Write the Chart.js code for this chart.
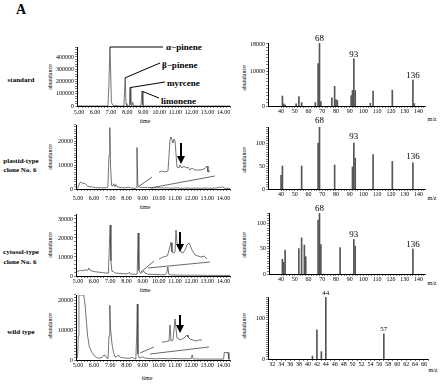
<!DOCTYPE html>
<html>
<head>
<meta charset="utf-8">
<script src="https://cdn.jsdelivr.net/npm/chart.js@4.4.0/dist/chart.umd.min.js"></script>
<style>
  body { margin: 0; background: #fff; }
  #fig { position: relative; width: 440px; height: 384px; overflow: hidden; background: #fff;
         font-family: 'Liberation Serif', 'Times New Roman', serif; color: #000; }
  #fig canvas, #fig svg { position: absolute; }
  .t { position: absolute; white-space: nowrap; line-height: 1; }
</style>
</head>
<body>
<div id="fig"></div>
<script>
// chromatograms (time in min, abundance)
const chromTicks = [5, 6, 7, 8, 9, 10, 11, 12, 13, 14];

const stdTime  = [4.88, 6.80, 6.86, 6.93, 6.97, 7.02, 7.10, 7.20, 7.30, 7.36, 7.45, 7.80, 7.84, 7.88, 7.93, 7.98, 8.12, 8.15, 8.18, 8.23, 8.30, 8.35, 8.40, 8.86, 8.90, 8.93, 8.98, 9.05, 14.40];
const stdAbund = [0, 0, 150000, 481000, 300000, 30000, 8000, 3000, 6000, 3000, 0, 0, 120000, 230000, 20000, 2000, 0, 80000, 150000, 10000, 2000, 30000, 2000, 0, 80000, 120000, 5000, 0, 0];
const stdYLabels = [0, 100000, 200000, 300000, 400000];

const compoundNames = ['α−pinene', 'β−pinene', 'myrcene', 'limonene'];
const compoundTime  = [6.93, 7.88, 8.18, 8.93];
const compoundPeak  = [481000, 230000, 150000, 120000];

const plTime  = [4.88, 5.00, 5.10, 5.20, 5.30, 5.40, 5.50, 5.60, 5.70, 5.90, 6.10, 6.40, 6.70, 6.85, 6.92, 6.97, 7.02, 7.08, 7.15, 7.22, 7.28, 7.35, 7.42, 7.60, 7.90, 8.10, 8.30, 8.55, 8.61, 8.65, 8.70, 8.80, 9.00, 9.30, 9.60, 9.90, 10.20, 10.50, 10.80, 11.10, 11.40, 11.70, 12.00, 12.30, 12.60, 12.90, 13.20, 13.50, 13.80, 13.95, 14.05, 14.40];
const plAbund = [300, 500, 2500, 2900, 2200, 2500, 1800, 1200, 1000, 800, 600, 500, 500, 800, 14000, 25600, 9000, 1500, 1200, 2200, 1000, 1800, 900, 600, 500, 700, 400, 300, 600, 17300, 1500, 800, 600, 700, 400, 600, 400, 500, 300, 500, 300, 400, 300, 400, 300, 400, 300, 400, 700, 900, 300, 300];
const plYLabels = [0, 10000, 20000];

const cyTime  = [4.88, 5.00, 5.15, 5.30, 5.45, 5.60, 5.68, 5.75, 5.90, 6.10, 6.30, 6.50, 6.70, 6.88, 6.94, 6.99, 7.04, 7.10, 7.18, 7.25, 7.40, 7.60, 7.90, 8.10, 8.18, 8.25, 8.50, 8.66, 8.72, 8.77, 8.85, 8.95, 9.05, 9.15, 9.30, 9.60, 10.00, 10.40, 10.50, 10.56, 10.62, 10.80, 11.20, 11.60, 12.00, 12.50, 13.00, 13.50, 14.00, 14.40];
const cyAbund = [1500, 2500, 3000, 2800, 3200, 3000, 4200, 3000, 2500, 2200, 2000, 1800, 1600, 1500, 15000, 26800, 8000, 2500, 2400, 1800, 1500, 1300, 1100, 1200, 2000, 1000, 900, 1000, 22600, 3000, 1500, 1800, 2600, 1500, 1000, 800, 700, 600, 2000, 4700, 800, 500, 500, 400, 400, 400, 300, 300, 300, 300];
const cyYLabels = [0, 10000, 20000, 30000];

const wtTime  = [4.88, 4.98, 5.02, 5.06, 5.36, 5.45, 5.52, 5.60, 5.70, 5.85, 6.00, 6.15, 6.35, 6.50, 6.60, 6.70, 6.78, 6.86, 6.92, 6.97, 7.02, 7.10, 7.20, 7.30, 7.42, 7.50, 7.58, 7.70, 8.00, 8.20, 8.35, 8.45, 8.58, 8.63, 8.67, 8.71, 8.78, 8.90, 9.00, 9.10, 9.40, 9.80, 10.20, 10.60, 11.00, 11.40, 11.80, 12.00, 12.06, 12.12, 12.50, 13.00, 13.50, 14.00, 14.05, 14.28, 14.33, 14.40];
const wtAbund = [700, 800, 8000, 21700, 21700, 18000, 13000, 8000, 4500, 2700, 1500, 800, 600, 900, 1600, 1500, 700, 500, 8000, 18300, 10000, 5600, 2500, 1000, 1200, 1700, 1000, 800, 600, 600, 900, 600, 300, 8000, 18700, 2000, 700, 800, 1100, 700, 500, 400, 500, 400, 500, 400, 400, 500, 1700, 400, 300, 300, 300, 300, 2500, 2500, 300, 300];
const wtYLabels = [0, 10000, 20000];

// magnified insets (arbitrary abundance units)
const plInsetTime  = [9.00, 9.24, 9.48, 9.72, 9.88, 9.96, 10.12, 10.20, 10.28, 10.44, 10.60, 10.68, 10.84, 11.00, 11.16, 11.32, 11.48, 11.64, 11.88, 12.12, 12.36, 12.60, 12.76, 12.84, 12.92, 13.08];
const plInsetAbund = [0, 40, 0, 40, 1280, 1400, 1160, 1320, 1240, 200, 160, 280, 160, 240, 160, 200, 80, 160, 80, 80, 80, 120, 200, 240, 0, 40];
const cyInsetTime  = [9.00, 9.32, 9.64, 9.72, 9.96, 10.04, 10.20, 10.28, 10.36, 10.44, 10.52, 10.68, 10.76, 10.92, 11.08, 11.24, 11.40, 11.48, 11.64, 11.88, 12.12, 12.36, 12.60, 12.76, 12.84];
const cyInsetAbund = [40, 120, 160, 240, 700, 320, 280, 320, 1200, 680, 600, 520, 320, 280, 400, 600, 680, 600, 400, 200, 160, 120, 160, 80, 40];
const wtInsetTime  = [9.0, 9.3, 9.6, 9.7, 9.8, 9.9, 10.1, 10.3, 10.5, 10.7, 10.8, 11.0, 11.2, 11.4, 11.5, 11.6, 11.8, 12.1, 12.4, 12.7, 13.0];
const wtInsetAbund = [40, 40, 80, 80, 720, 80, 120, 960, 200, 160, 120, 160, 200, 280, 320, 240, 160, 120, 80, 120, 120];

// mass spectra (m/z, abundance)
const mzLabels = [40, 50, 60, 70, 80, 90, 100, 110, 120, 130, 140];
const wtMzLabels = [32, 34, 36, 38, 40, 42, 44, 46, 48, 50, 52, 54, 56, 58, 60, 62, 64, 66];

const stdMz = [41, 42, 43, 51, 53, 55, 65, 67, 68, 69, 77, 79, 80, 81, 91, 92, 93, 94, 105, 107, 121, 136, 137];
const stdMzAbund = [2900, 600, 300, 600, 2700, 1000, 1000, 12300, 18200, 1250, 2400, 5700, 1900, 1600, 3000, 4500, 13700, 4500, 800, 4300, 4600, 7500, 700];
const stdMzYLabels = [0, 10000, 18000];
const stdMzPeaks = [68, 93, 136];

const plMz = [40, 41, 55, 67, 68, 79, 92, 93, 94, 107, 121, 136];
const plMzAbund = [30, 50, 50, 100, 135, 52, 48, 100, 67, 75, 60, 57];
const plMzYLabels = [0, 50, 100];
const plMzPeaks = [68, 93, 136];

const cyMz = [41, 42, 43, 53, 55, 57, 58, 67, 68, 69, 83, 93, 94, 136];
const cyMzAbund = [29, 23, 47, 50, 71, 57, 34, 106, 119, 58, 52, 68, 55, 49];
const cyMzYLabels = [0, 50, 100];
const cyMzPeaks = [68, 93, 136];

const wtMz = [41, 42, 43, 44, 57];
const wtMzAbund = [7, 71, 18, 150, 61];
const wtMzYLabels = [0, 100];
const wtMzPeaks = [44, 57];

Chart.defaults.font.family = "'Liberation Serif', 'Times New Roman', serif";
Chart.defaults.font.size = 6;
Chart.defaults.color = '#000';
Chart.defaults.animation = false;
Chart.defaults.responsive = false;
Chart.defaults.devicePixelRatio = 1;
Chart.defaults.plugins.legend.display = false;
Chart.defaults.plugins.tooltip.enabled = false;

const fig = document.getElementById('fig');

function txt(s, x, y, css, left) {
  const d = document.createElement('div');
  d.className = 't';
  d.textContent = s;
  d.style.cssText += css;
  d.style.left = x + 'px';
  d.style.top = y + 'px';
  d.style.transform = left ? 'translate(0,-50%)' : 'translate(-50%,-50%)';
  fig.appendChild(d);
  return d;
}
function vtxt(s, x, y, css) {
  const d = txt(s, x, y, css);
  d.style.transform = 'translate(-50%,-50%) rotate(-90deg)';
}

function addCanvas(left, top, w, h) {
  const c = document.createElement('canvas');
  c.width = w; c.height = h;
  c.style.left = left + 'px'; c.style.top = top + 'px';
  c.style.width = w + 'px'; c.style.height = h + 'px';
  fig.appendChild(c);
  return c;
}

function range(a, b, step) {
  const n = Math.round((b - a) / step);
  return Array.from({ length: n + 1 }, (_, i) => +(a + i * step).toFixed(4));
}

function axis(side, min, max, ticks, labels, fmt, size, pad) {
  return {
    type: 'linear', min: min, max: max, offset: false,
    afterBuildTicks: s => { s.ticks = ticks.map(v => ({ value: v })); },
    afterFit: s => { if (side === 'x') s.height = size; else s.width = size; },
    ticks: {
      autoSkip: false, maxRotation: 0, minRotation: 0, padding: pad, font: { size: 6 },
      callback: v => labels.includes(v) ? fmt(v) : ''
    },
    grid: { drawOnChartArea: false, drawTicks: true, tickLength: 2, color: '#000', lineWidth: 0.5, offset: false },
    border: { display: true, color: '#000', width: 1 }
  };
}

function chrom(box, time, abund, yMax, yStep, yLabels, xPad, extra) {
  const L = 30, R = 8, T = 6, B = 16;
  const c = addCanvas(box.l - L, box.t - T, box.r - box.l + L + R, box.b - box.t + T + B);
  return new Chart(c, {
    type: 'line',
    data: { datasets: [{ data: time.map((t, i) => ({ x: t, y: abund[i] })), borderColor: '#3a3a3a', borderWidth: 0.7, pointRadius: 0, tension: 0 }] },
    options: {
      layout: { padding: { left: 0, top: T, right: R, bottom: 0 } },
      scales: {
        x: axis('x', 4.88, 14.4, range(5, 14.4, 0.2), chromTicks, v => v.toFixed(2), B, xPad),
        y: axis('y', 0, yMax, range(0, yMax, yStep), yLabels, v => String(v), L, 1)
      }
    },
    plugins: extra ? [extra] : []
  });
}

function inset(box, time, abund, xr, yr) {
  const c = addCanvas(box.l, box.t, box.r - box.l, box.b - box.t);
  return new Chart(c, {
    type: 'line',
    data: { datasets: [{ data: time.map((t, i) => ({ x: t, y: abund[i] })), borderColor: '#3a3a3a', borderWidth: 0.7, pointRadius: 0, tension: 0 }] },
    options: {
      layout: { padding: 0 },
      scales: {
        x: { type: 'linear', display: false, min: xr[0], max: xr[1] },
        y: { type: 'linear', display: false, min: yr[0], max: yr[1] }
      }
    }
  });
}

function peakLabels(peaks, size, gap) {
  return {
    id: 'peakLabels',
    afterDatasetsDraw(chart) {
      const ctx = chart.ctx, xs = chart.scales.x, ys = chart.scales.y;
      const d = chart.data.datasets[0].data;
      ctx.save();
      ctx.font = size + "px 'Liberation Serif'";
      ctx.fillStyle = '#000';
      ctx.textAlign = 'center';
      ctx.textBaseline = 'bottom';
      peaks.forEach(m => {
        const p = d.find(q => q.x === m);
        ctx.fillText(String(m), xs.getPixelForValue(m), ys.getPixelForValue(p.y) - gap);
      });
      ctx.restore();
    }
  };
}

function spec(box, mz, ab, xr, xStep, xLabels, yMax, yStep, yLabels, peaks, size, gap) {
  const L = 26, R = 6, T = 12, B = 12;
  const c = addCanvas(box.l - L, box.t - T, box.r - box.l + L + R, box.b - box.t + T + B);
  return new Chart(c, {
    type: 'bar',
    data: { datasets: [{ data: mz.map((m, i) => ({ x: m, y: ab[i] })), backgroundColor: '#555', barThickness: 1, borderWidth: 0 }] },
    options: {
      layout: { padding: { left: 0, top: T, right: R, bottom: 0 } },
      scales: {
        x: axis('x', xr[0], xr[1], range(xLabels[0], xr[1], xStep), xLabels, v => String(v), B, 0),
        y: axis('y', 0, yMax, range(0, yMax, yStep), yLabels, v => String(v), L, 1)
      }
    },
    plugins: [peakLabels(peaks, size, gap)]
  });
}

// labels
txt('A', 16, 10, 'font-size:14px;font-weight:bold;', true);
const rowCss = 'font-size:7px;font-weight:bold;';
txt('standard', 21, 80, rowCss);
txt('plastid-type', 21, 161, rowCss);
txt('clone No. 6', 20, 170, rowCss);
txt('cytosol-type', 21, 252, rowCss);
txt('clone No. 6', 20, 262, rowCss);
txt('wild type', 21, 332, rowCss);

const smallCss = 'font-size:6px;';
[77, 157, 245, 326].forEach(y => vtxt('abundance', 50, y, smallCss));
[78, 160, 245, 326].forEach(y => vtxt('abundance', 244, y, smallCss));
txt('time', 145, 121, smallCss);
txt('time', 145, 207, smallCss);
txt('time', 145, 290, smallCss);
txt('time', 147, 378, smallCss);
txt('m/z', 432, 119, smallCss);
txt('m/z', 432, 198, smallCss);
txt('m/z', 432, 283, smallCss);
txt('m/z', 433, 370, smallCss);

const compoundLabelPos = [[166, 47], [162, 65], [167, 83], [161, 101]];
const leaderEnd = [[163, 47], [160, 63], [165, 82], [159, 98]];
compoundNames.forEach((n, i) => txt(n, compoundLabelPos[i][0], compoundLabelPos[i][1], 'font-size:9px;font-weight:bold;', true));

const leaders = {
  id: 'leaders',
  afterDatasetsDraw(chart) {
    const ctx = chart.ctx, xs = chart.scales.x, ys = chart.scales.y;
    const ox = parseFloat(chart.canvas.style.left), oy = parseFloat(chart.canvas.style.top);
    ctx.save();
    ctx.strokeStyle = '#000';
    ctx.lineWidth = 1;
    compoundTime.forEach((t, i) => {
      ctx.beginPath();
      ctx.moveTo(xs.getPixelForValue(t), ys.getPixelForValue(compoundPeak[i]));
      ctx.lineTo(leaderEnd[i][0] - ox, leaderEnd[i][1] - oy);
      ctx.stroke();
    });
    ctx.restore();
  }
};

// chromatograms
chrom({ l: 77, r: 230, t: 47, b: 106 }, stdTime, stdAbund, 481000, 20000, stdYLabels, 1, leaders);
chrom({ l: 76, r: 230, t: 125, b: 189 }, plTime, plAbund, 26700, 1000, plYLabels, 4);
chrom({ l: 76, r: 230, t: 214, b: 276 }, cyTime, cyAbund, 32600, 2000, cyYLabels, 0);
chrom({ l: 76, r: 230, t: 295, b: 360 }, wtTime, wtAbund, 21700, 1000, wtYLabels, 0);

// insets
inset({ l: 159, r: 210, t: 136, b: 173 }, plInsetTime, plInsetAbund, [9.0, 13.08], [-40, 1440]);
inset({ l: 159, r: 207, t: 228, b: 261 }, cyInsetTime, cyInsetAbund, [9.0, 12.84], [-40, 1280]);
inset({ l: 162, r: 202, t: 317, b: 344 }, wtInsetTime, wtInsetAbund, [9.0, 13.0], [-40, 1040]);

// spectra
spec({ l: 268, r: 425, t: 43, b: 106 }, stdMz, stdMzAbund, [30.5, 144.8], 2, mzLabels, 18290, 1000, stdMzYLabels, stdMzPeaks, 9, 0);
spec({ l: 268, r: 425, t: 127, b: 189 }, plMz, plMzAbund, [30.5, 144.8], 2, mzLabels, 135, 5, plMzYLabels, plMzPeaks, 9, 2);
spec({ l: 269, r: 425, t: 213, b: 274 }, cyMz, cyMzAbund, [31.26, 144.8], 2, mzLabels, 120, 5, cyMzYLabels, cyMzPeaks, 9, 0);
spec({ l: 268, r: 428, t: 297, b: 359 }, wtMz, wtMzAbund, [31.04, 66.9], 1, wtMzLabels, 151, 5, wtMzYLabels, wtMzPeaks, 7, 1);

// magnification wedges and arrows
const NS = 'http://www.w3.org/2000/svg';
const svg = document.createElementNS(NS, 'svg');
svg.setAttribute('width', 440); svg.setAttribute('height', 384);
svg.style.left = '0px'; svg.style.top = '0px';
fig.appendChild(svg);
const wedges = [[138, 187, 152, 177], [150, 188, 215, 176], [141, 272, 154, 261], [148, 268, 210, 262], [140, 353, 154, 347], [150, 354, 209, 347]];
wedges.forEach(w => {
  const l = document.createElementNS(NS, 'line');
  l.setAttribute('x1', w[0]); l.setAttribute('y1', w[1]); l.setAttribute('x2', w[2]); l.setAttribute('y2', w[3]);
  l.setAttribute('stroke', '#444'); l.setAttribute('stroke-width', 0.8);
  svg.appendChild(l);
});
const arrows = [[181, 143, 164], [180, 232, 252], [180, 315, 333]];
arrows.forEach(a => {
  const [x, y1, y2] = a;
  const l = document.createElementNS(NS, 'line');
  l.setAttribute('x1', x); l.setAttribute('y1', y1); l.setAttribute('x2', x); l.setAttribute('y2', y2 - 6);
  l.setAttribute('stroke', '#000'); l.setAttribute('stroke-width', 2);
  svg.appendChild(l);
  const p = document.createElementNS(NS, 'polygon');
  p.setAttribute('points', `${x - 4},${y2 - 8} ${x + 4},${y2 - 8} ${x},${y2}`);
  p.setAttribute('fill', '#000');
  svg.appendChild(p);
});
</script>
</body>
</html>
